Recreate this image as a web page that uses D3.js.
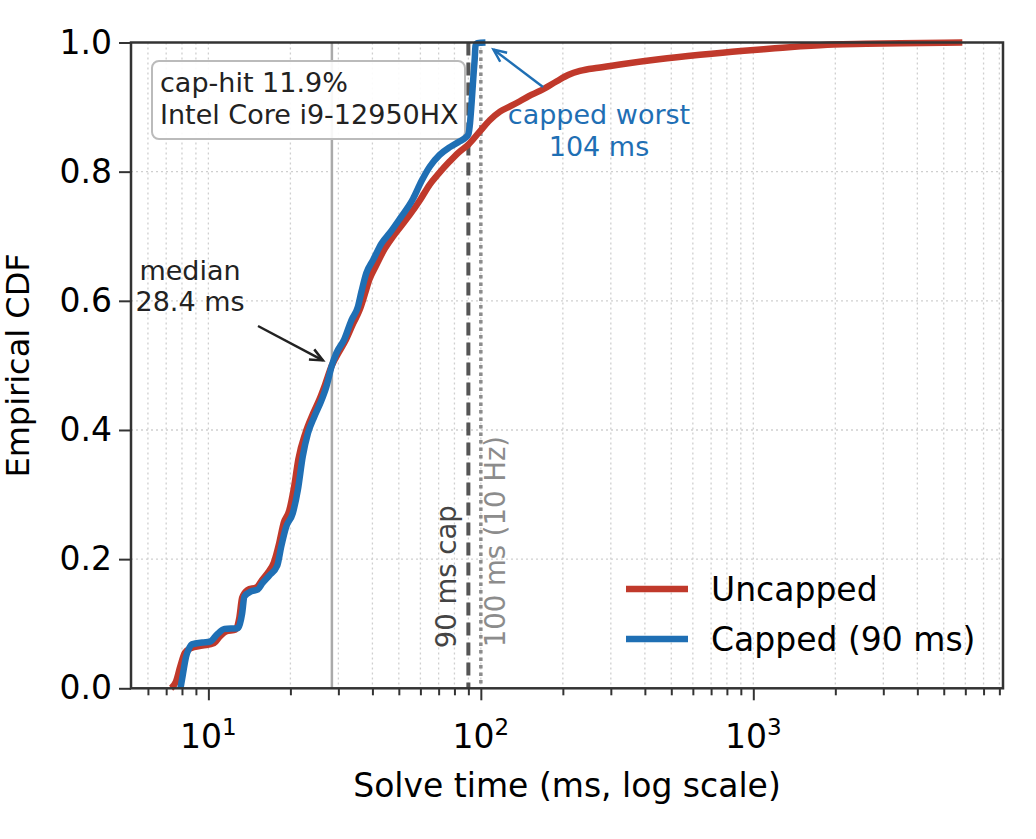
<!DOCTYPE html>
<html>
<head>
<meta charset="utf-8">
<script src="https://cdn.jsdelivr.net/npm/d3@7"></script>
<style>
  body { margin: 0; background: #fff; }
  text { font-family: "DejaVu Sans", sans-serif; }
</style>
</head>
<body>
<svg id="chart" width="1036" height="839"></svg>
<script>
// --- data ---
var uncappedMs = [7.3, 7.6, 7.9, 8.2, 8.6, 9.5, 10.5, 11.0, 11.6, 12.6, 13.0, 13.3, 13.9, 15.1, 15.7, 16.6, 17.4, 18.2, 18.9, 19.8, 20.6, 21.4, 22.7, 24.2, 25.6, 26.8, 28.4, 29.8, 32, 34, 36, 37.5, 39, 41.3, 44.3, 47.3, 51, 54.8, 60, 64.9, 70, 76.9, 83, 90, 99, 108, 117.5, 128, 139, 150, 164.7, 190, 210, 231, 270, 324, 450, 638, 900, 1200, 1490, 1970, 2600, 3467, 5850];
var uncappedCdf = [0, 0.01, 0.035, 0.055, 0.062, 0.066, 0.07, 0.08, 0.088, 0.091, 0.11, 0.14, 0.152, 0.157, 0.167, 0.18, 0.195, 0.225, 0.256, 0.275, 0.31, 0.355, 0.395, 0.425, 0.448, 0.47, 0.5, 0.517, 0.54, 0.565, 0.587, 0.61, 0.633, 0.655, 0.68, 0.698, 0.716, 0.733, 0.757, 0.78, 0.797, 0.816, 0.83, 0.842, 0.862, 0.88, 0.893, 0.901, 0.909, 0.917, 0.925, 0.94, 0.95, 0.956, 0.961, 0.966, 0.974, 0.981, 0.987, 0.991, 0.994, 0.997, 0.998, 0.999, 1.0];

var cappedMs = [7.9, 8.05, 8.28, 8.5, 8.7, 9.5, 10.1, 10.8, 11.45, 12.8, 13.3, 13.56, 14.35, 15.2, 15.8, 16.75, 17.9, 18.5, 19.3, 20.4, 21.3, 22.2, 23.2, 24.5, 25.9, 27.1, 28.4, 29.5, 31.5, 33.5, 35.4, 36.5, 38.0, 40.2, 43.2, 46.3, 50.4, 56.4, 60.5, 65, 70.6, 77, 83.7, 88, 90, 91, 92.4, 94, 95, 95.6, 97, 104];
var cappedCdf = [0, 0.02, 0.049, 0.062, 0.068, 0.071, 0.072, 0.084, 0.092, 0.093, 0.116, 0.142, 0.15, 0.153, 0.163, 0.175, 0.19, 0.219, 0.25, 0.271, 0.307, 0.359, 0.395, 0.421, 0.444, 0.467, 0.5, 0.519, 0.54, 0.57, 0.591, 0.615, 0.643, 0.663, 0.689, 0.705, 0.727, 0.758, 0.785, 0.808, 0.826, 0.838, 0.847, 0.853, 0.858, 0.87, 0.904, 0.95, 0.976, 0.995, 0.999, 1.0];

var seriesNames = ["Uncapped", "Capped (90 ms)"];
var seriesColors = ["#c0392b", "#1f6fb4"];

var xMajorTicks = [10, 100, 1000];
var xMinorTicks = [6, 7, 8, 9, 20, 30, 40, 50, 60, 70, 80, 90, 200, 300, 400, 500, 600, 700, 800, 900, 2000, 3000, 4000, 5000, 6000, 7000, 8000];
var yTicks = [0, 0.2, 0.4, 0.6, 0.8, 1.0];

var medianMs = 28.4;
var capMs = 90;
var budgetMs = 100;
var cappedWorstMs = 104;
var infoLines = ["cap-hit 11.9%", "Intel Core i9-12950HX"];

// --- layout ---
var svg = d3.select("#chart");
var plotL = 131, plotT = 42.5, plotR = 1003, plotB = 688.3;

var x = d3.scaleLog().domain([5.2, 8250]).range([plotL, plotR]);
var y = d3.scaleLinear().domain([0, 1]).range([plotB, plotT]);

var gridColor = "#cfcfcf";

// grid: vertical at every major+minor tick, horizontal at inner y ticks
svg.append("g").selectAll("line")
    .data(xMajorTicks.concat(xMinorTicks))
    .enter().append("line")
    .attr("x1", function(d) { return x(d); })
    .attr("x2", function(d) { return x(d); })
    .attr("y1", plotT).attr("y2", plotB)
    .attr("stroke", gridColor).attr("stroke-width", 1.3)
    .attr("stroke-dasharray", "2,3");

svg.append("g").selectAll("line")
    .data(yTicks.slice(1, -1))
    .enter().append("line")
    .attr("x1", plotL).attr("x2", plotR)
    .attr("y1", function(d) { return y(d); })
    .attr("y2", function(d) { return y(d); })
    .attr("stroke", gridColor).attr("stroke-width", 1.3)
    .attr("stroke-dasharray", "2,3");

// reference lines
svg.append("line")
    .attr("x1", x(medianMs)).attr("x2", x(medianMs))
    .attr("y1", plotT).attr("y2", plotB)
    .attr("stroke", "#aaaaaa").attr("stroke-width", 2.5);

svg.append("line")
    .attr("x1", x(capMs)).attr("x2", x(capMs))
    .attr("y1", plotT).attr("y2", plotB)
    .attr("stroke", "#555555").attr("stroke-width", 4)
    .attr("stroke-dasharray", "13,7");

svg.append("line")
    .attr("x1", x(budgetMs)).attr("x2", x(budgetMs))
    .attr("y1", plotT).attr("y2", plotB)
    .attr("stroke", "#8c8c8c").attr("stroke-width", 3.5)
    .attr("stroke-dasharray", "3.5,4");

svg.append("text")
    .attr("transform", "translate(" + (x(capMs) - 12) + "," + (plotB - 40) + ") rotate(-90)")
    .attr("font-size", 27.5).attr("fill", "#444")
    .text("90 ms cap");

svg.append("text")
    .attr("transform", "translate(" + (x(budgetMs) + 24) + "," + (plotB - 41) + ") rotate(-90)")
    .attr("font-size", 27.5).attr("fill", "#8c8c8c")
    .text("100 ms (10 Hz)");

// info box
var box = svg.append("g");
box.append("rect")
    .attr("x", 152).attr("y", 61).attr("width", 313).attr("height", 78)
    .attr("rx", 7).attr("fill", "#fff").attr("fill-opacity", 0.9)
    .attr("stroke", "#bbbbbb").attr("stroke-width", 2);
box.selectAll("text").data(infoLines).enter().append("text")
    .attr("x", 160)
    .attr("y", function(d, i) { return 92 + i * 32; })
    .attr("font-size", 27).attr("fill", "#222")
    .text(function(d) { return d; });

// CDF curves
var line = d3.line()
    .curve(d3.curveMonotoneX)
    .x(function(d) { return x(d[0]); })
    .y(function(d) { return y(d[1]); });

var series = [d3.zip(uncappedMs, uncappedCdf), d3.zip(cappedMs, cappedCdf)];

svg.append("g").selectAll("path")
    .data(series)
    .enter().append("path")
    .attr("d", line)
    .attr("fill", "none")
    .attr("stroke", function(d, i) { return seriesColors[i]; })
    .attr("stroke-width", 6.5)
    .attr("stroke-linejoin", "round")
    .attr("stroke-linecap", "butt");

// arrows
function arrow(x1, y1, x2, y2, color) {
    var g = svg.append("g").attr("stroke", color).attr("stroke-width", 2.5).attr("fill", "none");
    g.append("line").attr("x1", x1).attr("y1", y1).attr("x2", x2).attr("y2", y2);
    var a = Math.atan2(y2 - y1, x2 - x1), L = 14, w = 0.42;
    g.append("path")
        .attr("d", "M" + (x2 - L * Math.cos(a - w)) + "," + (y2 - L * Math.sin(a - w)) +
            "L" + x2 + "," + y2 +
            "L" + (x2 - L * Math.cos(a + w)) + "," + (y2 - L * Math.sin(a + w)));
}

// median annotation
svg.append("text").attr("x", 190).attr("y", 280)
    .attr("text-anchor", "middle").attr("font-size", 27).attr("fill", "#222")
    .text("median");
svg.append("text").attr("x", 190).attr("y", 311)
    .attr("text-anchor", "middle").attr("font-size", 27).attr("fill", "#222")
    .text("28.4 ms");
arrow(258, 326, x(medianMs) - 9, y(0.5) - 5, "#222");

// capped worst annotation
svg.append("text").attr("x", 599).attr("y", 124)
    .attr("text-anchor", "middle").attr("font-size", 27).attr("fill", seriesColors[1])
    .text("capped worst");
svg.append("text").attr("x", 599).attr("y", 156)
    .attr("text-anchor", "middle").attr("font-size", 27).attr("fill", seriesColors[1])
    .text("104 ms");
arrow(543, 87, x(cappedWorstMs) + 8, y(1.0) + 7, seriesColors[1]);

// axes
var axisColor = "#333";
var xAxisMinor = d3.axisBottom(x).tickValues(xMinorTicks).tickSize(7).tickFormat("");
var xAxisMajor = d3.axisBottom(x).tickValues(xMajorTicks).tickSize(12).tickFormat("");
var gxm = svg.append("g").attr("transform", "translate(0," + plotB + ")").call(xAxisMinor);
var gxM = svg.append("g").attr("transform", "translate(0," + plotB + ")").call(xAxisMajor);
[gxm, gxM].forEach(function(g) {
    g.select(".domain").remove();
    g.selectAll(".tick line").attr("stroke", axisColor).attr("stroke-width", 2);
});

var xLabels = svg.append("g").selectAll("text")
    .data(xMajorTicks).enter().append("text")
    .attr("x", function(d) { return x(d); })
    .attr("y", 748)
    .attr("text-anchor", "middle")
    .attr("font-size", 33).attr("fill", "#000");
xLabels.append("tspan").text("10");
xLabels.append("tspan").attr("font-size", 23).attr("dy", -13)
    .text(function(d) { return String(Math.round(Math.log10(d))); });

var yAxis = d3.axisLeft(y).tickValues(yTicks).tickSize(12).tickPadding(7)
    .tickFormat(d3.format(".1f"));
var gy = svg.append("g").attr("transform", "translate(" + plotL + ",0)").call(yAxis);
gy.select(".domain").remove();
gy.selectAll(".tick line").attr("stroke", axisColor).attr("stroke-width", 2);
gy.selectAll(".tick text").attr("font-size", 33).attr("fill", "#000")
    .attr("font-family", "DejaVu Sans");

// frame
svg.append("rect")
    .attr("x", plotL).attr("y", plotT)
    .attr("width", plotR - plotL).attr("height", plotB - plotT)
    .attr("fill", "none").attr("stroke", axisColor).attr("stroke-width", 2.5);

// axis titles
svg.append("text")
    .attr("x", (plotL + plotR) / 2).attr("y", 797)
    .attr("text-anchor", "middle").attr("font-size", 33).attr("fill", "#000")
    .text("Solve time (ms, log scale)");
svg.append("text")
    .attr("transform", "translate(29," + ((plotT + plotB) / 2) + ") rotate(-90)")
    .attr("text-anchor", "middle").attr("font-size", 32).attr("fill", "#000")
    .text("Empirical CDF");

// legend
var legend = svg.append("g").selectAll("g")
    .data(seriesNames).enter().append("g")
    .attr("transform", function(d, i) { return "translate(626," + (589 + i * 50) + ")"; });
legend.append("line")
    .attr("x1", 0).attr("x2", 62)
    .attr("stroke", function(d, i) { return seriesColors[i]; })
    .attr("stroke-width", 6.5);
legend.append("text")
    .attr("x", 85).attr("y", 12)
    .attr("font-size", 33).attr("fill", "#000")
    .text(function(d) { return d; });
</script>
</body>
</html>
